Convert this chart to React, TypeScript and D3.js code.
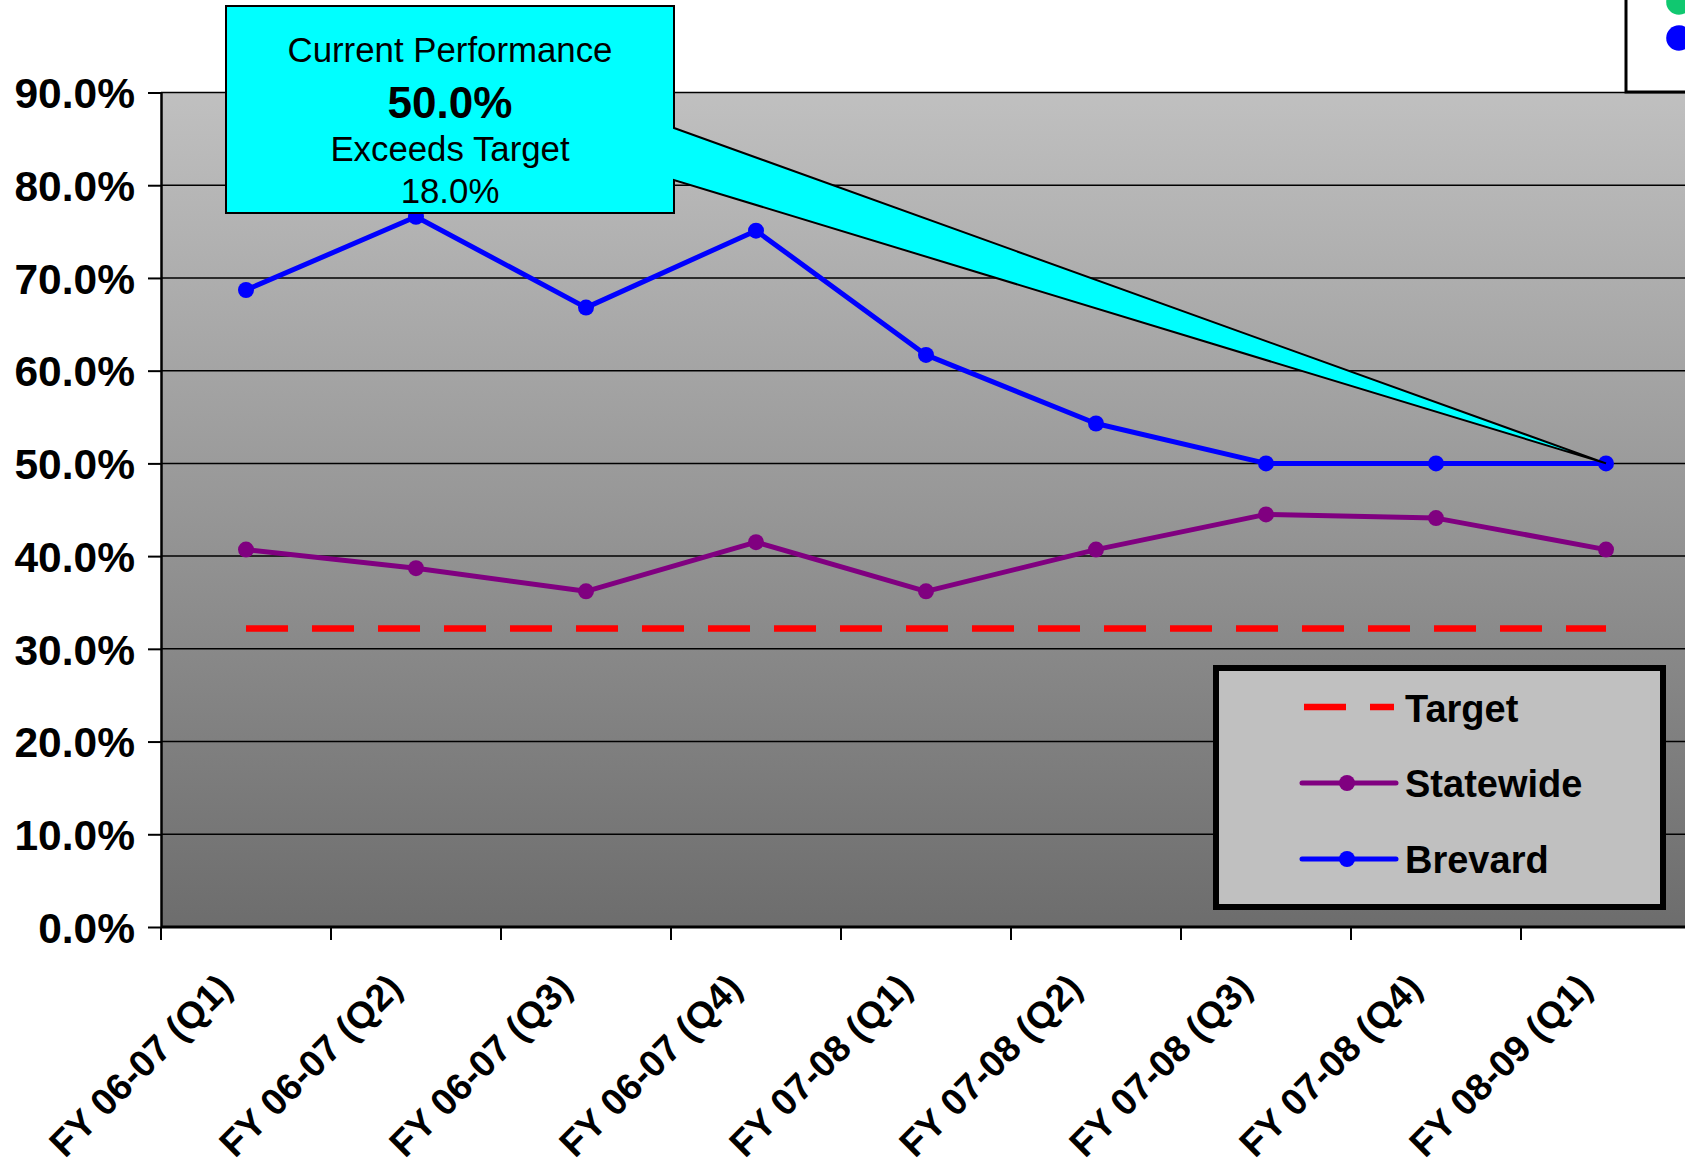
import React, { useEffect, useRef } from 'react';
import * as d3 from 'd3';

// chart data
const categories = [
  'FY 06-07 (Q1)',
  'FY 06-07 (Q2)',
  'FY 06-07 (Q3)',
  'FY 06-07 (Q4)',
  'FY 07-08 (Q1)',
  'FY 07-08 (Q2)',
  'FY 07-08 (Q3)',
  'FY 07-08 (Q4)',
  'FY 08-09 (Q1)',
];
const brevardValues = [68.7, 76.6, 66.8, 75.1, 61.7, 54.3, 50.0, 50.0, 50.0];
const statewideValues = [40.7, 38.7, 36.2, 41.5, 36.2, 40.7, 44.5, 44.1, 40.7];
const targetValues = [32.2, 32.2, 32.2, 32.2, 32.2, 32.2, 32.2, 32.2, 32.2];
const yTicks = [0, 10, 20, 30, 40, 50, 60, 70, 80, 90];
const legendItems = ['Target', 'Statewide', 'Brevard'];
const calloutLines = ['Current Performance', '50.0%', 'Exceeds Target', '18.0%'];

const App: React.FC = () => {
  const chartRef = useRef<SVGSVGElement>(null);

  useEffect(() => {
    if (!chartRef.current) return;
    document.body.style.margin = '0';
    document.body.style.overflow = 'hidden';

    const font = '"Liberation Sans", Arial, Helvetica, sans-serif';
    const svg = d3.select(chartRef.current);
    svg.selectAll('*').remove();

    const left = 161;
    const bandW = 170;
    const x = d3
      .scaleBand<string>()
      .domain(categories)
      .range([left, left + bandW * categories.length])
      .padding(0);
    const y = d3.scaleLinear().domain([0, 90]).range([927, 92.5]);
    const cx = (c: string) => (x(c) as number) + x.bandwidth() / 2;
    const right = x.range()[1];

    // plot background gradient
    const defs = svg.append('defs');
    const grad = defs
      .append('linearGradient')
      .attr('id', 'plotBg')
      .attr('x1', 0)
      .attr('y1', 0)
      .attr('x2', 0)
      .attr('y2', 1);
    grad.append('stop').attr('offset', '0%').attr('stop-color', '#c0c0c0');
    grad.append('stop').attr('offset', '100%').attr('stop-color', '#6d6d6d');

    svg
      .append('rect')
      .attr('x', left)
      .attr('y', y(90))
      .attr('width', right - left)
      .attr('height', y(0) - y(90))
      .attr('fill', 'url(#plotBg)');

    // gridlines
    svg
      .append('g')
      .selectAll('line')
      .data(yTicks.filter((t) => t > 0))
      .join('line')
      .attr('x1', left)
      .attr('x2', right)
      .attr('y1', (d) => y(d))
      .attr('y2', (d) => y(d))
      .attr('stroke', '#000')
      .attr('stroke-width', 1.5);

    // y axis
    const yAxis = svg
      .append('g')
      .attr('transform', `translate(${left},0)`)
      .call(
        d3
          .axisLeft(y)
          .tickValues(yTicks)
          .tickSize(13)
          .tickSizeOuter(0)
          .tickPadding(13)
          .tickFormat((d) => `${(+d).toFixed(1)}%`)
      );
    yAxis.select('.domain').attr('stroke', '#000').attr('stroke-width', 2.5);
    yAxis.selectAll('.tick line').attr('stroke', '#000').attr('stroke-width', 2);
    yAxis
      .selectAll('.tick text')
      .attr('font-family', font)
      .attr('font-size', 42.5)
      .attr('font-weight', 'bold')
      .attr('fill', '#000')
      .attr('dy', '0.36em');

    // x axis
    svg
      .append('line')
      .attr('x1', left)
      .attr('x2', right)
      .attr('y1', y(0))
      .attr('y2', y(0))
      .attr('stroke', '#000')
      .attr('stroke-width', 3);
    svg
      .append('g')
      .selectAll('line')
      .data(categories)
      .join('line')
      .attr('x1', (d) => x(d) as number)
      .attr('x2', (d) => x(d) as number)
      .attr('y1', y(0))
      .attr('y2', y(0) + 13)
      .attr('stroke', '#000')
      .attr('stroke-width', 2);
    svg
      .append('g')
      .selectAll('text')
      .data(categories)
      .join('text')
      .attr('transform', (d) => `translate(${cx(d) - 12},${y(0) + 63}) rotate(-45)`)
      .attr('text-anchor', 'end')
      .attr('font-family', font)
      .attr('font-size', 37.5)
      .attr('font-weight', 'bold')
      .attr('fill', '#000')
      .text((d) => d);

    // series
    const line = d3
      .line<number>()
      .x((_, i) => cx(categories[i]))
      .y((d) => y(d));

    svg
      .append('path')
      .datum(targetValues)
      .attr('fill', 'none')
      .attr('stroke', '#ff0000')
      .attr('stroke-width', 6.5)
      .attr('stroke-dasharray', '42 24')
      .attr('d', line);

    const series = [
      { values: statewideValues, color: '#800080' },
      { values: brevardValues, color: '#0000ff' },
    ];
    series.forEach((s) => {
      svg
        .append('path')
        .datum(s.values)
        .attr('fill', 'none')
        .attr('stroke', s.color)
        .attr('stroke-width', 5)
        .attr('stroke-linejoin', 'round')
        .attr('d', line);
      svg
        .append('g')
        .selectAll('circle')
        .data(s.values)
        .join('circle')
        .attr('cx', (_, i) => cx(categories[i]))
        .attr('cy', (d) => y(d))
        .attr('r', 8)
        .attr('fill', s.color);
    });

    // callout
    const last = brevardValues.length - 1;
    const tipX = cx(categories[last]);
    const tipY = y(brevardValues[last]);
    const box = { l: 226, t: 6, r: 674, b: 213 };
    svg
      .append('path')
      .attr(
        'd',
        `M${box.l},${box.t}L${box.r},${box.t}L${box.r},128L${tipX},${tipY}L${box.r},180L${box.r},${box.b}L${box.l},${box.b}Z`
      )
      .attr('fill', '#00ffff')
      .attr('stroke', '#000')
      .attr('stroke-width', 2)
      .attr('stroke-linejoin', 'miter');
    const calloutBase = [62, 118, 161, 203];
    svg
      .append('g')
      .selectAll('text')
      .data(calloutLines)
      .join('text')
      .attr('x', (box.l + box.r) / 2)
      .attr('y', (_, i) => calloutBase[i])
      .attr('text-anchor', 'middle')
      .attr('font-family', font)
      .attr('font-size', (_, i) => (i === 1 ? 44 : 34.8))
      .attr('font-weight', (_, i) => (i === 1 ? 'bold' : 'normal'))
      .attr('fill', '#000')
      .text((d) => d);

    // legend
    const lg = svg.append('g');
    lg.append('rect')
      .attr('x', 1216)
      .attr('y', 668)
      .attr('width', 447)
      .attr('height', 239)
      .attr('fill', '#c0c0c0')
      .attr('stroke', '#000')
      .attr('stroke-width', 6);
    const rowY = [707, 783, 859];
    const baseY = [722, 797, 873];
    lg.append('line')
      .attr('x1', 1304)
      .attr('x2', 1394)
      .attr('y1', rowY[0])
      .attr('y2', rowY[0])
      .attr('stroke', '#ff0000')
      .attr('stroke-width', 6.5)
      .attr('stroke-dasharray', '42 24');
    series.forEach((s, i) => {
      lg.append('line')
        .attr('x1', 1302)
        .attr('x2', 1396)
        .attr('y1', rowY[i + 1])
        .attr('y2', rowY[i + 1])
        .attr('stroke', s.color)
        .attr('stroke-width', 5)
        .attr('stroke-linecap', 'round');
      lg.append('circle')
        .attr('cx', 1347)
        .attr('cy', rowY[i + 1])
        .attr('r', 8)
        .attr('fill', s.color);
    });
    lg.selectAll('text')
      .data(legendItems)
      .join('text')
      .attr('x', 1405)
      .attr('y', (_, i) => baseY[i])
      .attr('font-family', font)
      .attr('font-size', 38)
      .attr('font-weight', 'bold')
      .attr('fill', '#000')
      .text((d) => d);

    // cut-off legend at top right
    svg
      .append('rect')
      .attr('x', 1626)
      .attr('y', -10)
      .attr('width', 120)
      .attr('height', 102)
      .attr('fill', '#fff')
      .attr('stroke', '#000')
      .attr('stroke-width', 3);
    svg.append('circle').attr('cx', 1679).attr('cy', 2).attr('r', 12.8).attr('fill', '#10c870');
    svg.append('circle').attr('cx', 1679).attr('cy', 38).attr('r', 12.8).attr('fill', '#0000ff');
  }, []);

  return <svg ref={chartRef} width={1685} height={1165} style={{ display: 'block' }}></svg>;
};

export default App;
